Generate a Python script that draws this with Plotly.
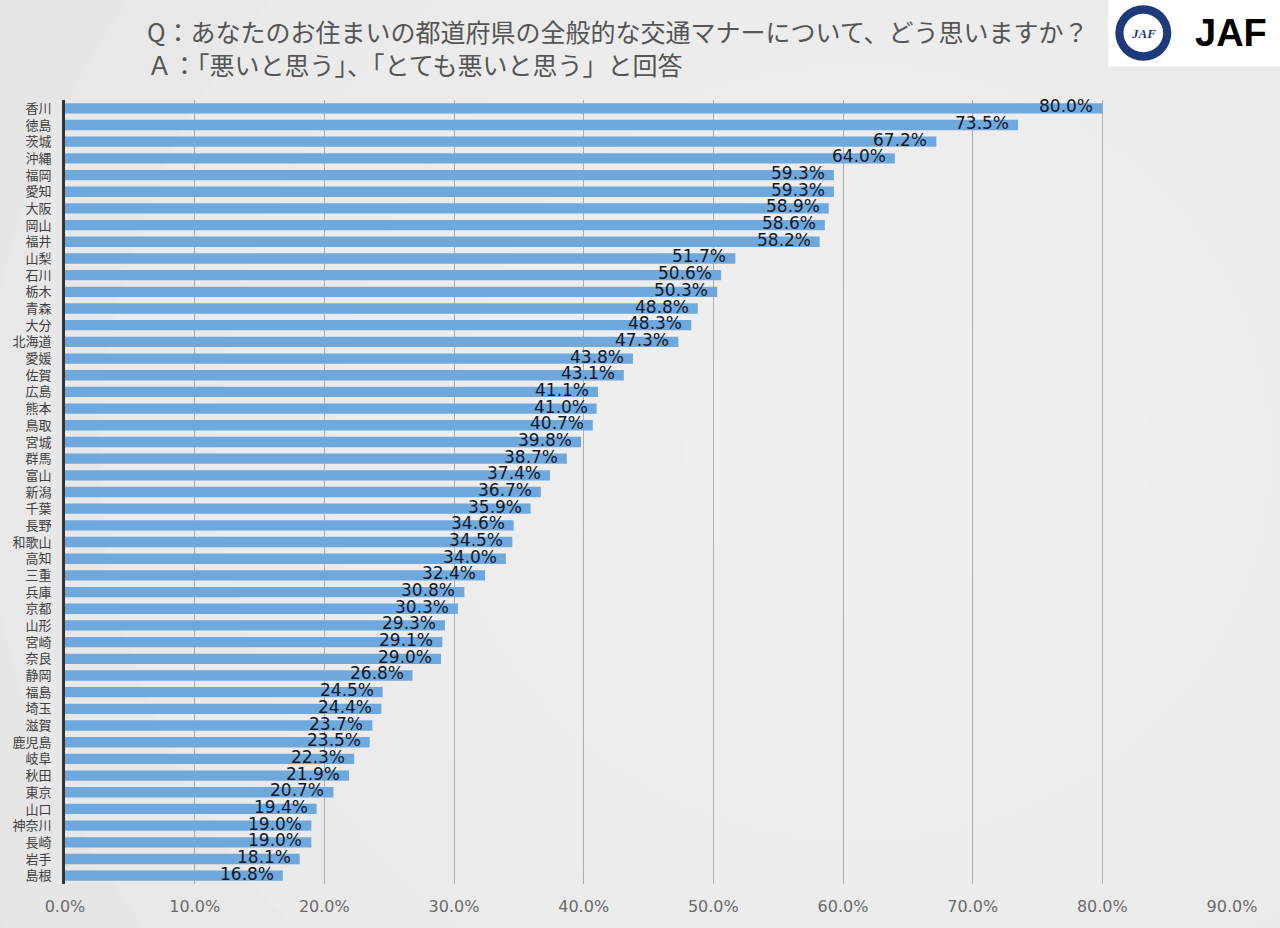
import plotly.graph_objects as go

# 都道府県 (上から順)
prefectures = ["香川", "徳島", "茨城", "沖縄", "福岡", "愛知", "大阪", "岡山", "福井", "山梨",
               "石川", "栃木", "青森", "大分", "北海道", "愛媛", "佐賀", "広島", "熊本", "鳥取",
               "宮城", "群馬", "富山", "新潟", "千葉", "長野", "和歌山", "高知", "三重", "兵庫",
               "京都", "山形", "宮崎", "奈良", "静岡", "福島", "埼玉", "滋賀", "鹿児島", "岐阜",
               "秋田", "東京", "山口", "神奈川", "長崎", "岩手", "島根"]
# 「悪い」+「とても悪い」の割合 (%)
bad_pct = [80.0, 73.5, 67.2, 64.0, 59.3, 59.3, 58.9, 58.6, 58.2, 51.7,
           50.6, 50.3, 48.8, 48.3, 47.3, 43.8, 43.1, 41.1, 41.0, 40.7,
           39.8, 38.7, 37.4, 36.7, 35.9, 34.6, 34.5, 34.0, 32.4, 30.8,
           30.3, 29.3, 29.1, 29.0, 26.8, 24.5, 24.4, 23.7, 23.5, 22.3,
           21.9, 20.7, 19.4, 19.0, 19.0, 18.1, 16.8]
tick_vals = [0, 10, 20, 30, 40, 50, 60, 70, 80, 90]
tick_text = [f"{v:.1f}%" for v in tick_vals]

title_q = "Q：あなたのお住まいの都道府県の全般的な交通マナーについて、どう思いますか？"
title_a = "Ａ：「悪いと思う」、「とても悪いと思う」と回答"

fig = go.Figure()

fig.add_trace(go.Bar(
    x=bad_pct, y=prefectures, orientation="h",
    marker=dict(color="#6fa8dc", line=dict(width=0)),
    width=0.62, hoverinfo="x+y"
))

# 背景のぼかし (中央を明るく)
shapes = []
for i in range(9):
    r = 0.95 - i * 0.1
    shapes.append(dict(type="circle", xref="paper", yref="paper",
                       x0=0.68 - r, x1=0.68 + r, y0=0.55 - r * 1.4, y1=0.55 + r * 1.4,
                       fillcolor="rgba(255,255,255,0.09)", line=dict(width=0), layer="below"))

# JAF ロゴ
shapes += [
    dict(type="rect", xref="paper", yref="paper", x0=0.894, x1=1.05, y0=1.043, y1=1.13,
         fillcolor="white", line=dict(width=0)),
    dict(type="circle", xref="paper", yref="paper", x0=0.9, x1=0.948, y0=1.05, y1=1.121,
         fillcolor="#1f3a7a", line=dict(width=0)),
    dict(type="circle", xref="paper", yref="paper", x0=0.907, x1=0.941, y0=1.061, y1=1.11,
         fillcolor="white", line=dict(width=0)),
]

annotations = [
    dict(text=title_q + "<br>" + title_a, xref="paper", yref="paper", x=0.0686, y=1.067,
         xanchor="left", yanchor="middle", align="left", showarrow=False,
         font=dict(family="Noto Sans CJK JP", size=25, color="#555555")),
    dict(text="<i><b>JAF</b></i>", xref="paper", yref="paper", x=0.924, y=1.085,
         xanchor="center", yanchor="middle", showarrow=False,
         font=dict(family="Liberation Serif", size=13, color="#1f3a7a")),
    dict(text="<b>JAF</b>", xref="paper", yref="paper", x=0.999, y=1.085,
         xanchor="center", yanchor="middle", showarrow=False,
         font=dict(family="Liberation Sans", size=38, color="#000000")),
]

# 値ラベル (バー右端の内側)
for name, v in zip(prefectures, bad_pct):
    annotations.append(dict(
        x=v, y=name, text=f"{v:.1f}%", xanchor="right", yanchor="middle",
        xshift=-8, yshift=2, showarrow=False, borderpad=0,
        font=dict(family="DejaVu Sans", size=17, color="#111827")))

fig.update_layout(
    width=1280, height=928,
    margin=dict(l=65, r=48, t=100, b=38),
    paper_bgcolor="#e2e2e2",
    plot_bgcolor="rgba(0,0,0,0)",
    showlegend=False,
    shapes=shapes,
    annotations=annotations,
    xaxis=dict(range=[0, 90], tickvals=tick_vals, ticktext=tick_text,
               showgrid=True, gridcolor="#adadad", gridwidth=1, zeroline=False,
               ticks="outside", ticklen=8, tickcolor="rgba(0,0,0,0)",
               tickfont=dict(family="DejaVu Sans", size=16, color="#6b6b6b"),
               fixedrange=True),
    yaxis=dict(range=[len(prefectures) - 0.5, -0.5], dtick=1,
               showline=True, linecolor="#333333", linewidth=3,
               ticks="", tickfont=dict(family="Noto Sans CJK JP", size=13, color="#404040"),
               ticklabelstandoff=8, fixedrange=True),
)

fig.write_html("out.html", config={"displayModeBar": False},
               post_script="document.body.style.margin='0';")
